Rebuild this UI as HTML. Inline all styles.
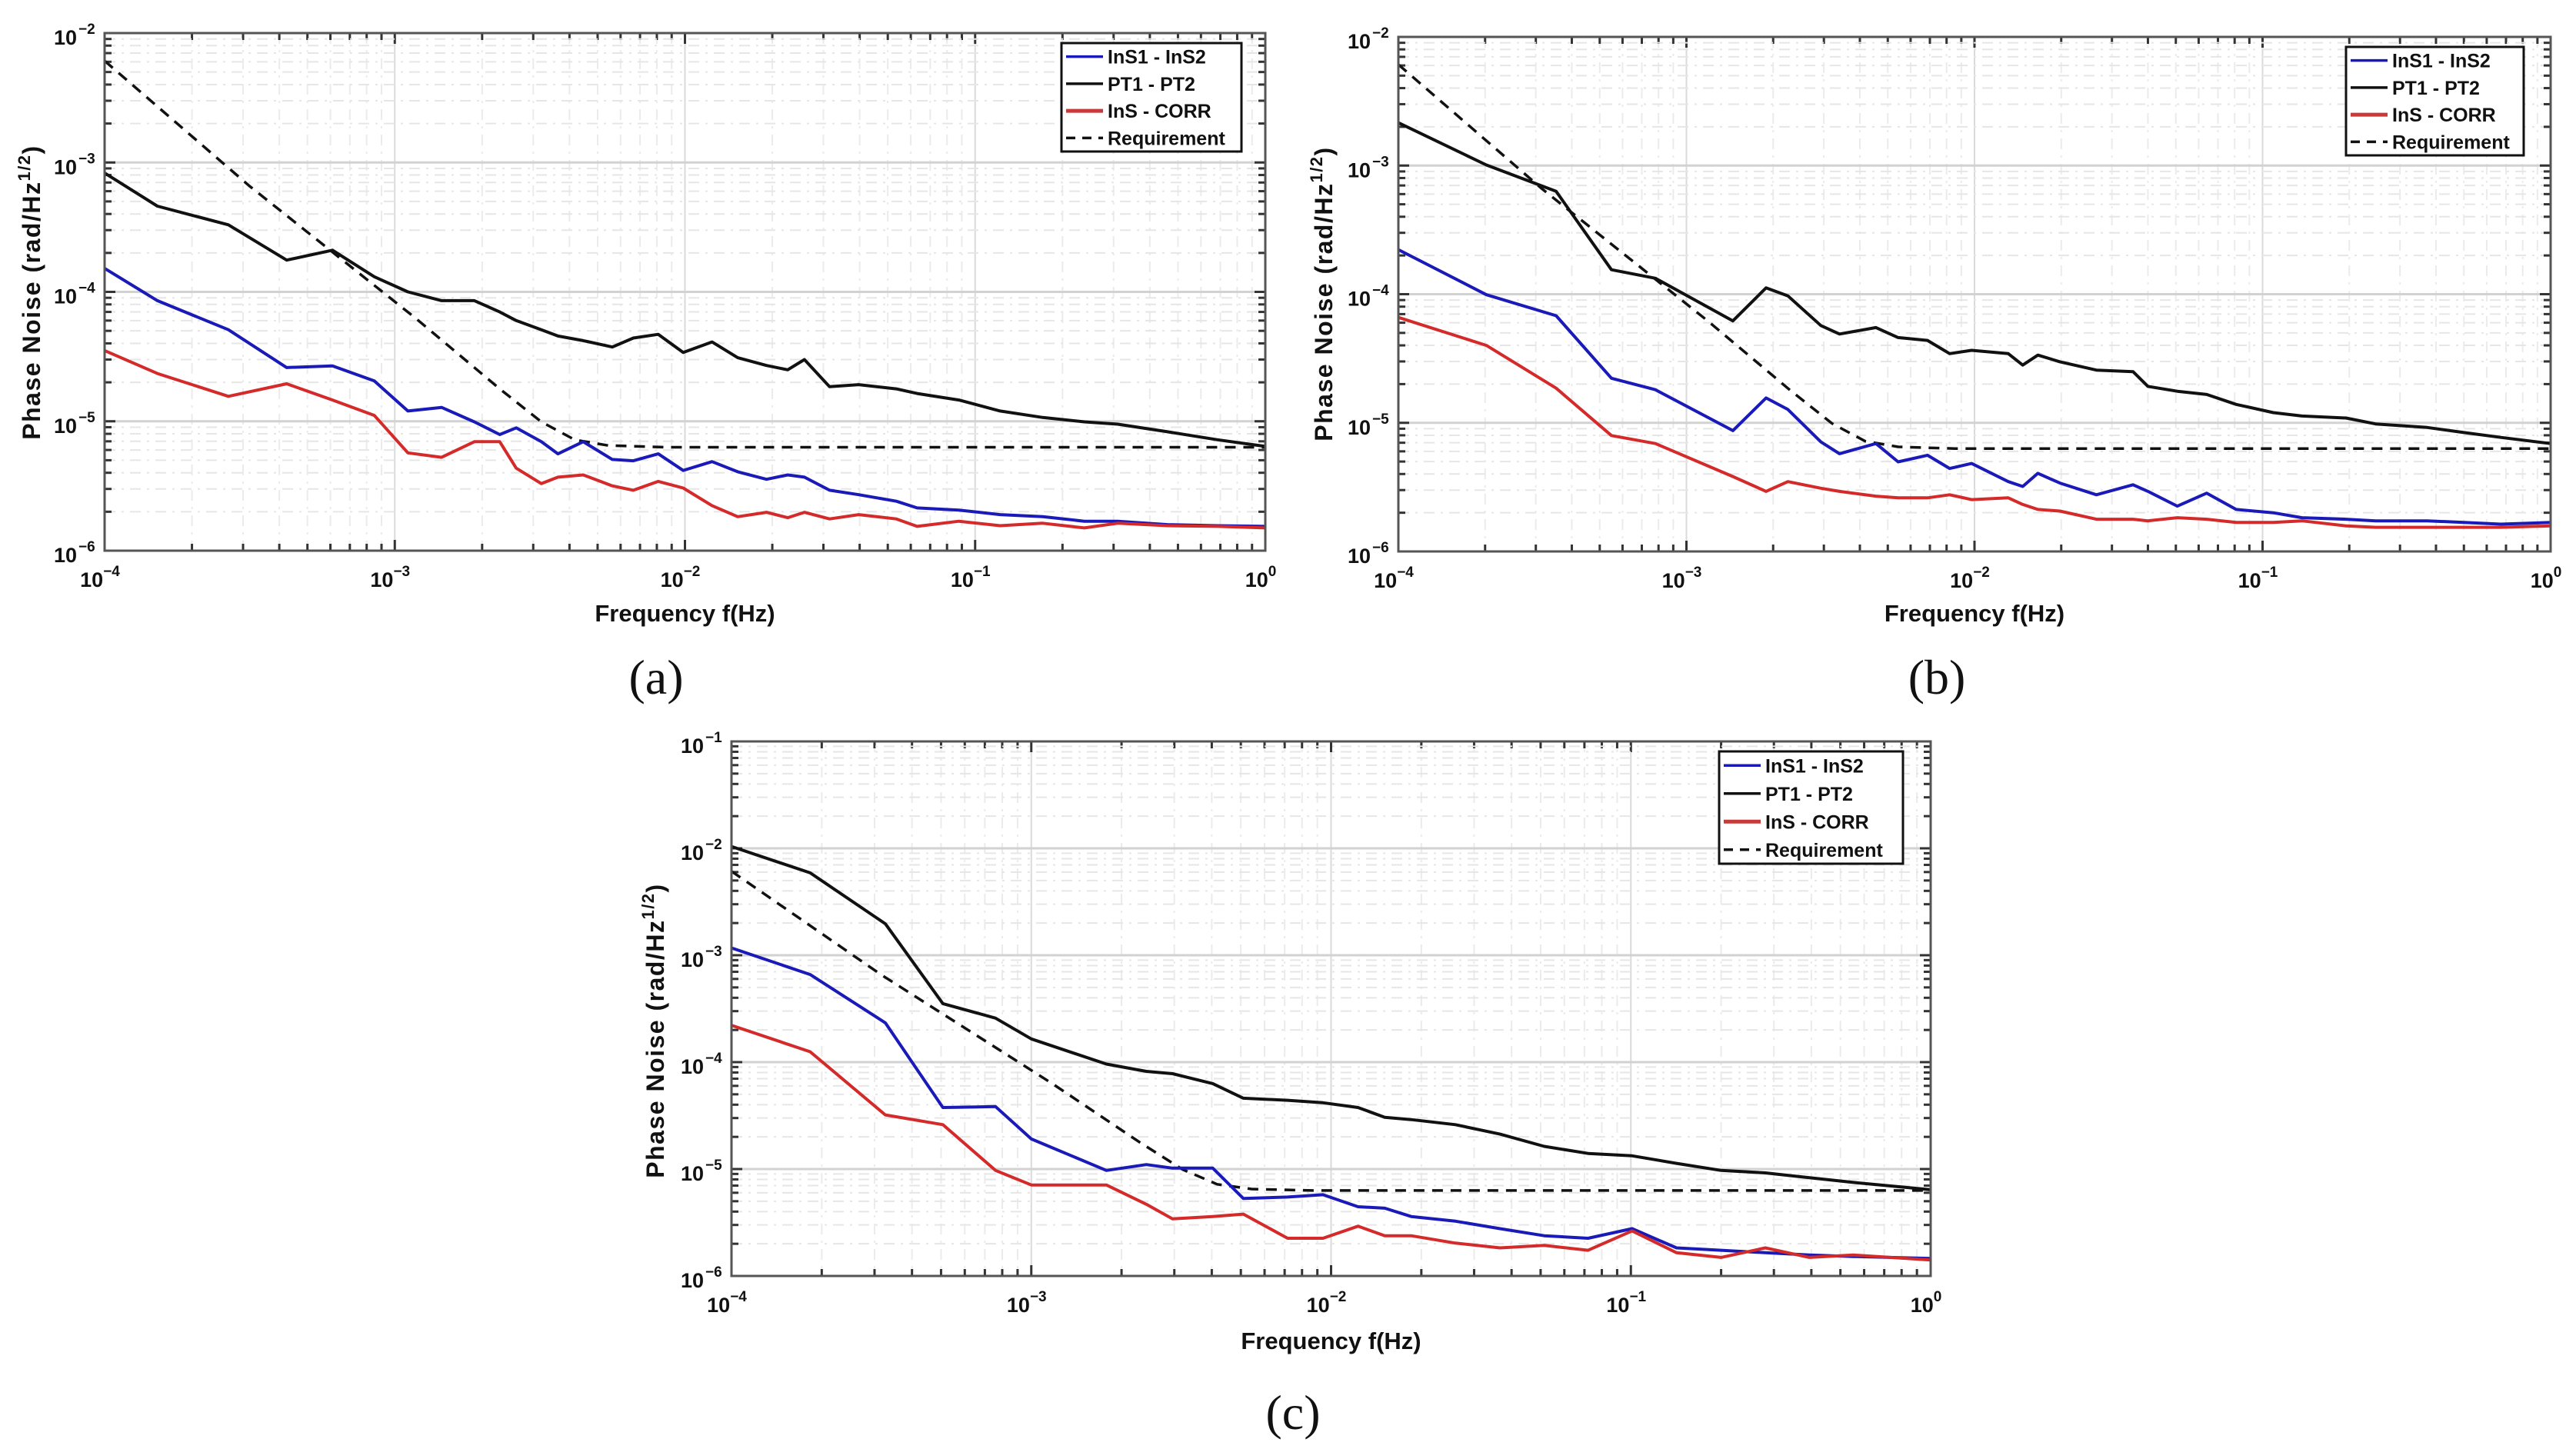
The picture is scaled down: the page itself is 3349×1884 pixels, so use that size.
<!DOCTYPE html>
<html><head><meta charset="utf-8"><title>Phase noise</title>
<style>
html,body{margin:0;padding:0;background:#fff;}
svg{display:block;font-family:"Liberation Sans",Arial,sans-serif;}
</style></head>
<body>
<svg id="fig" width="3349" height="1884" viewBox="0 0 3349 1884" xmlns="http://www.w3.org/2000/svg"></svg>
<script>
// ---------- Requirement (shared) ----------
const reqFreq = [1e-4, 3.15e-4, 6.1e-4, 1.18e-3, 2.3e-3, 3.2e-3, 4.17e-3, 5.43e-3, 8.65e-3, 1];
const reqVal  = [6.1e-3, 6.6e-4, 2.03e-4, 6.25e-5, 1.78e-5, 9.9e-6, 7.2e-6, 6.5e-6, 6.3e-6, 6.3e-6];

// ---------- Panel (a) ----------
const freqA = [1e-4,1.52e-4,2.67e-4,4.24e-4,6.1e-4,8.5e-4,1.11e-3,1.45e-3,1.88e-3,2.3e-3,2.62e-3,3.2e-3,3.65e-3,4.46e-3,5.62e-3,6.64e-3,8.09e-3,9.86e-3,1.24e-2,1.52e-2,1.91e-2,2.26e-2,2.58e-2,3.15e-2,3.97e-2,5.35e-2,6.31e-2,8.79e-2,0.122,0.171,0.238,0.31,0.46,0.685,1];
const ptA   = [8.3e-4,4.6e-4,3.3e-4,1.76e-4,2.1e-4,1.31e-4,1.0e-4,8.55e-5,8.55e-5,7.0e-5,6.0e-5,5.1e-5,4.56e-5,4.2e-5,3.75e-5,4.4e-5,4.7e-5,3.4e-5,4.1e-5,3.1e-5,2.7e-5,2.5e-5,3.0e-5,1.85e-5,1.92e-5,1.78e-5,1.64e-5,1.46e-5,1.2e-5,1.07e-5,9.9e-6,9.5e-6,8.3e-6,7.2e-6,6.4e-6];
const insA  = [1.52e-4,8.55e-5,5.1e-5,2.6e-5,2.68e-5,2.05e-5,1.2e-5,1.28e-5,9.9e-6,7.9e-6,8.9e-6,6.95e-6,5.6e-6,6.95e-6,5.07e-6,4.95e-6,5.6e-6,4.17e-6,4.88e-6,4.07e-6,3.56e-6,3.85e-6,3.7e-6,2.93e-6,2.71e-6,2.41e-6,2.14e-6,2.06e-6,1.9e-6,1.83e-6,1.69e-6,1.69e-6,1.59e-6,1.56e-6,1.54e-6];
const corrA = [3.52e-5,2.34e-5,1.56e-5,1.95e-5,1.46e-5,1.11e-5,5.7e-6,5.27e-6,6.95e-6,6.95e-6,4.34e-6,3.3e-6,3.7e-6,3.85e-6,3.17e-6,2.93e-6,3.43e-6,3.05e-6,2.23e-6,1.83e-6,1.98e-6,1.8e-6,1.98e-6,1.76e-6,1.9e-6,1.76e-6,1.54e-6,1.69e-6,1.56e-6,1.63e-6,1.5e-6,1.63e-6,1.56e-6,1.54e-6,1.5e-6];

// ---------- Panel (b) ----------
const freqB = [1e-4,2.02e-4,3.53e-4,5.49e-4,7.8e-4,1.45e-3,1.89e-3,2.25e-3,2.93e-3,3.4e-3,4.55e-3,5.43e-3,6.87e-3,8.2e-3,9.77e-3,1.31e-2,1.47e-2,1.66e-2,1.98e-2,2.65e-2,3.55e-2,4.0e-2,5.06e-2,6.4e-2,8.1e-2,0.109,0.137,0.195,0.247,0.373,0.5,0.671,1];
const ptB   = [2.15e-3,1.01e-3,6.3e-4,1.55e-4,1.33e-4,6.2e-5,1.12e-4,9.7e-5,5.7e-5,4.9e-5,5.5e-5,4.6e-5,4.37e-5,3.45e-5,3.66e-5,3.45e-5,2.81e-5,3.36e-5,2.98e-5,2.57e-5,2.5e-5,1.92e-5,1.76e-5,1.66e-5,1.39e-5,1.2e-5,1.13e-5,1.09e-5,9.8e-6,9.2e-6,8.4e-6,7.7e-6,6.9e-6];
const insB  = [2.22e-4,9.9e-5,6.8e-5,2.22e-5,1.81e-5,8.7e-6,1.56e-5,1.27e-5,7.1e-6,5.75e-6,6.9e-6,4.97e-6,5.6e-6,4.42e-6,4.83e-6,3.49e-6,3.2e-6,4.05e-6,3.4e-6,2.76e-6,3.3e-6,2.93e-6,2.25e-6,2.84e-6,2.12e-6,2.0e-6,1.83e-6,1.78e-6,1.73e-6,1.73e-6,1.68e-6,1.63e-6,1.68e-6];
const corrB = [6.6e-5,4.0e-5,1.86e-5,7.96e-6,6.9e-6,3.82e-6,2.93e-6,3.49e-6,3.1e-6,2.93e-6,2.69e-6,2.61e-6,2.61e-6,2.76e-6,2.53e-6,2.61e-6,2.32e-6,2.12e-6,2.06e-6,1.78e-6,1.78e-6,1.73e-6,1.83e-6,1.78e-6,1.68e-6,1.68e-6,1.73e-6,1.58e-6,1.54e-6,1.54e-6,1.54e-6,1.54e-6,1.58e-6];

// ---------- Panel (c) ----------
const freqC = [1e-4,1.83e-4,3.26e-4,5.07e-4,7.6e-4,1.0e-3,1.78e-3,2.42e-3,2.96e-3,4.03e-3,5.1e-3,7.16e-3,9.4e-3,1.23e-2,1.51e-2,1.85e-2,2.6e-2,3.66e-2,5.14e-2,7.2e-2,0.101,0.142,0.2,0.281,0.394,0.553,1];
const ptC   = [1.04e-2,5.9e-3,1.97e-3,3.53e-4,2.58e-4,1.65e-4,9.6e-5,8.2e-5,7.8e-5,6.3e-5,4.6e-5,4.4e-5,4.17e-5,3.76e-5,3.05e-5,2.9e-5,2.6e-5,2.12e-5,1.63e-5,1.4e-5,1.33e-5,1.13e-5,9.7e-6,9.2e-6,8.3e-6,7.5e-6,6.4e-6];
const insC  = [1.17e-3,6.6e-4,2.33e-4,3.76e-5,3.84e-5,1.91e-5,9.7e-6,1.1e-5,1.02e-5,1.02e-5,5.3e-6,5.47e-6,5.75e-6,4.44e-6,4.3e-6,3.6e-6,3.25e-6,2.77e-6,2.38e-6,2.25e-6,2.77e-6,1.83e-6,1.74e-6,1.65e-6,1.57e-6,1.52e-6,1.46e-6];
const corrC = [2.21e-4,1.25e-4,3.21e-5,2.6e-5,9.7e-6,7.1e-6,7.1e-6,4.68e-6,3.42e-6,3.6e-6,3.79e-6,2.25e-6,2.25e-6,2.92e-6,2.38e-6,2.38e-6,2.03e-6,1.83e-6,1.93e-6,1.74e-6,2.64e-6,1.65e-6,1.49e-6,1.83e-6,1.49e-6,1.57e-6,1.41e-6];

const legendLabels = ["InS1 - InS2","PT1 - PT2","InS - CORR","Requirement"];

const NS="http://www.w3.org/2000/svg";
const svg=document.getElementById('fig');
function mk(tag,attrs,parent){const e=document.createElementNS(NS,tag);for(const k in attrs)e.setAttribute(k,attrs[k]);(parent||svg).appendChild(e);return e;}

function panel(p){
  const g=mk('g',{});
  
  
  const L=p.x0,R=p.x1,T=p.y0,B=p.y1;
  const xs=f=>L+(Math.log10(f)-p.fmin)/(p.fmax-p.fmin)*(R-L);
  const ys=v=>B-(Math.log10(v)-p.vmin)/(p.vmax-p.vmin)*(B-T);
  mk('rect',{x:L,y:T,width:R-L,height:B-T,fill:'#fff'},g);
  const grid=mk('g',{},g);
  
  
  for(let d=p.fmin;d<p.fmax;d++){
    for(let m=1;m<10;m++){
      const x=xs(m*Math.pow(10,d));
      if(m===1){ if(d!==p.fmin) mk('line',{x1:x,y1:T,x2:x,y2:B,stroke:'#dadada','stroke-width':2},grid);}
      else mk('line',{x1:x,y1:T,x2:x,y2:B,stroke:'#ebebeb','stroke-width':2,'stroke-dasharray':'14 8 3 8'},grid);
      mk('line',{x1:x,y1:B,x2:x,y2:B-(m===1?14:9),stroke:'#333','stroke-width':3},grid);
      mk('line',{x1:x,y1:T,x2:x,y2:T+(m===1?14:9),stroke:'#333','stroke-width':3},grid);
    }
  }
  for(let d=p.vmin;d<p.vmax;d++){
    for(let m=1;m<10;m++){
      const y=ys(m*Math.pow(10,d));
      if(m===1){ if(d!==p.vmin) mk('line',{x1:L,y1:y,x2:R,y2:y,stroke:'#d2d2d2','stroke-width':3},grid);}
      else mk('line',{x1:L,y1:y,x2:R,y2:y,stroke:'#e6e6e6','stroke-width':2,'stroke-dasharray':'14 8 3 8'},grid);
      mk('line',{x1:L,y1:y,x2:L+(m===1?14:9),y2:y,stroke:'#333','stroke-width':3},grid);
      mk('line',{x1:R,y1:y,x2:R-(m===1?14:9),y2:y,stroke:'#333','stroke-width':3},grid);
    }
  }
  for(let d=p.fmin;d<=p.fmax;d++){
    const t=mk('text',{x:xs(Math.pow(10,d))-6,y:B+47,'font-size':27,'font-weight':'bold','text-anchor':'middle',fill:'#111'},g);
    
    
    t.appendChild(document.createTextNode('10'));
    const s=mk('tspan',{dy:-14,'font-size':19},t);s.textContent=(d<0?'\u2212'+(-d):''+d);
  }
  for(let d=p.vmin;d<=p.vmax;d++){
    const y=ys(Math.pow(10,d));
    const t=mk('text',{x:L-36,y:y+15,'font-size':27,'font-weight':'bold','text-anchor':'end',fill:'#111'},g);
    
    
    t.textContent='10';
    const s=mk('text',{x:L-34,y:y+1,'font-size':19,'font-weight':'bold',fill:'#111'},g);
    
    
    s.textContent='\u2212'+(-d);
  }
  function line(fr,vals,color,w,dash,name){
    let dstr='';
    for(let i=0;i<fr.length;i++){dstr+=(i?'L':'M')+xs(fr[i]).toFixed(1)+','+ys(vals[i]).toFixed(1);}
    const a={d:dstr,fill:'none',stroke:color,'stroke-width':w,'stroke-linejoin':'round'};
    if(dash)a['stroke-dasharray']=dash;
    const pth=mk('path',a,g);
    
    
  }
  line(reqFreq,reqVal,'#111',3.5,'14 10','requirement-line');
  line(p.freq,p.pt,'#111',4,null,'pt1-pt2-line');
  line(p.freq,p.ins,'#1a1ab8',4,null,'ins1-ins2-line');
  line(p.freq,p.corr,'#d42a2a',4,null,'ins-corr-line');
  mk('rect',{x:L,y:T,width:R-L,height:B-T,fill:'none',stroke:'#555','stroke-width':3},g);
  const lg=mk('g',{},g);
  
  
  const lx=p.lg[0],ly=p.lg[1],lw=p.lg[2],lh=p.lg[3];
  mk('rect',{x:lx,y:ly,width:lw,height:lh,fill:'#fff',stroke:'#111','stroke-width':3},lg);
  const cols=['#1a1ab8','#111','#c83a3a','#111'];
  const rh=lh/4;
  for(let i=0;i<4;i++){
    const cy=ly+rh*(i+0.5);
    const ln=mk('line',{x1:lx+6,y1:cy,x2:lx+54,y2:cy,stroke:cols[i],'stroke-width':i===2?5:3.5},lg);
    if(i===3)ln.setAttribute('stroke-dasharray','12 9');
    
    
    const t=mk('text',{x:lx+60,y:cy+9,'font-size':25,'font-weight':'bold',fill:'#111'},lg);
    
    
    t.textContent=legendLabels[i];
  }
  const xt=mk('text',{x:(L+R)/2,y:p.xtY,'font-size':31,'font-weight':'bold','text-anchor':'middle',fill:'#111'},g);
  
  
  xt.textContent='Frequency f(Hz)';
  const yt=mk('text',{x:0,y:0,'font-size':32,'font-weight':'bold','letter-spacing':1.5,'text-anchor':'middle',fill:'#111',transform:'translate('+(p.ytX)+','+p.ytY+') rotate(-90)'},g);
  
  
  yt.appendChild(document.createTextNode('Phase Noise (rad/Hz'));
  const sp=mk('tspan',{dy:-13,'font-size':22},yt);sp.textContent='1/2';
  const sp2=mk('tspan',{dy:13},yt);sp2.textContent=')';
  const c=mk('text',{x:p.cap[0],y:p.cap[1],'font-size':64,'font-family':'"Liberation Serif",serif','text-anchor':'middle',fill:'#111'},g);
  
  
  c.textContent=p.capText;
}

panel({name:'panel-a',x0:136,x1:1645,y0:43,y1:716,fmin:-4,fmax:0,vmin:-6,vmax:-2,
  freq:freqA,pt:ptA,ins:insA,corr:corrA,lg:[1380,56,234,141],xtY:808,ytX:52,ytY:380,cap:[853,902],capText:'(a)'});
panel({name:'panel-b',x0:1818,x1:3316,y0:48,y1:717,fmin:-4,fmax:0,vmin:-6,vmax:-2,
  freq:freqB,pt:ptB,ins:insB,corr:corrB,lg:[3050,61,231,141],xtY:808,ytX:1732,ytY:382,cap:[2518,902],capText:'(b)'});
panel({name:'panel-c',x0:951,x1:2510,y0:964,y1:1659,fmin:-4,fmax:0,vmin:-6,vmax:-1,
  freq:freqC,pt:ptC,ins:insC,corr:corrC,lg:[2235,977,239,146],xtY:1754,ytX:863,ytY:1340,cap:[1681,1858],capText:'(c)'});
</script>
</body></html>
